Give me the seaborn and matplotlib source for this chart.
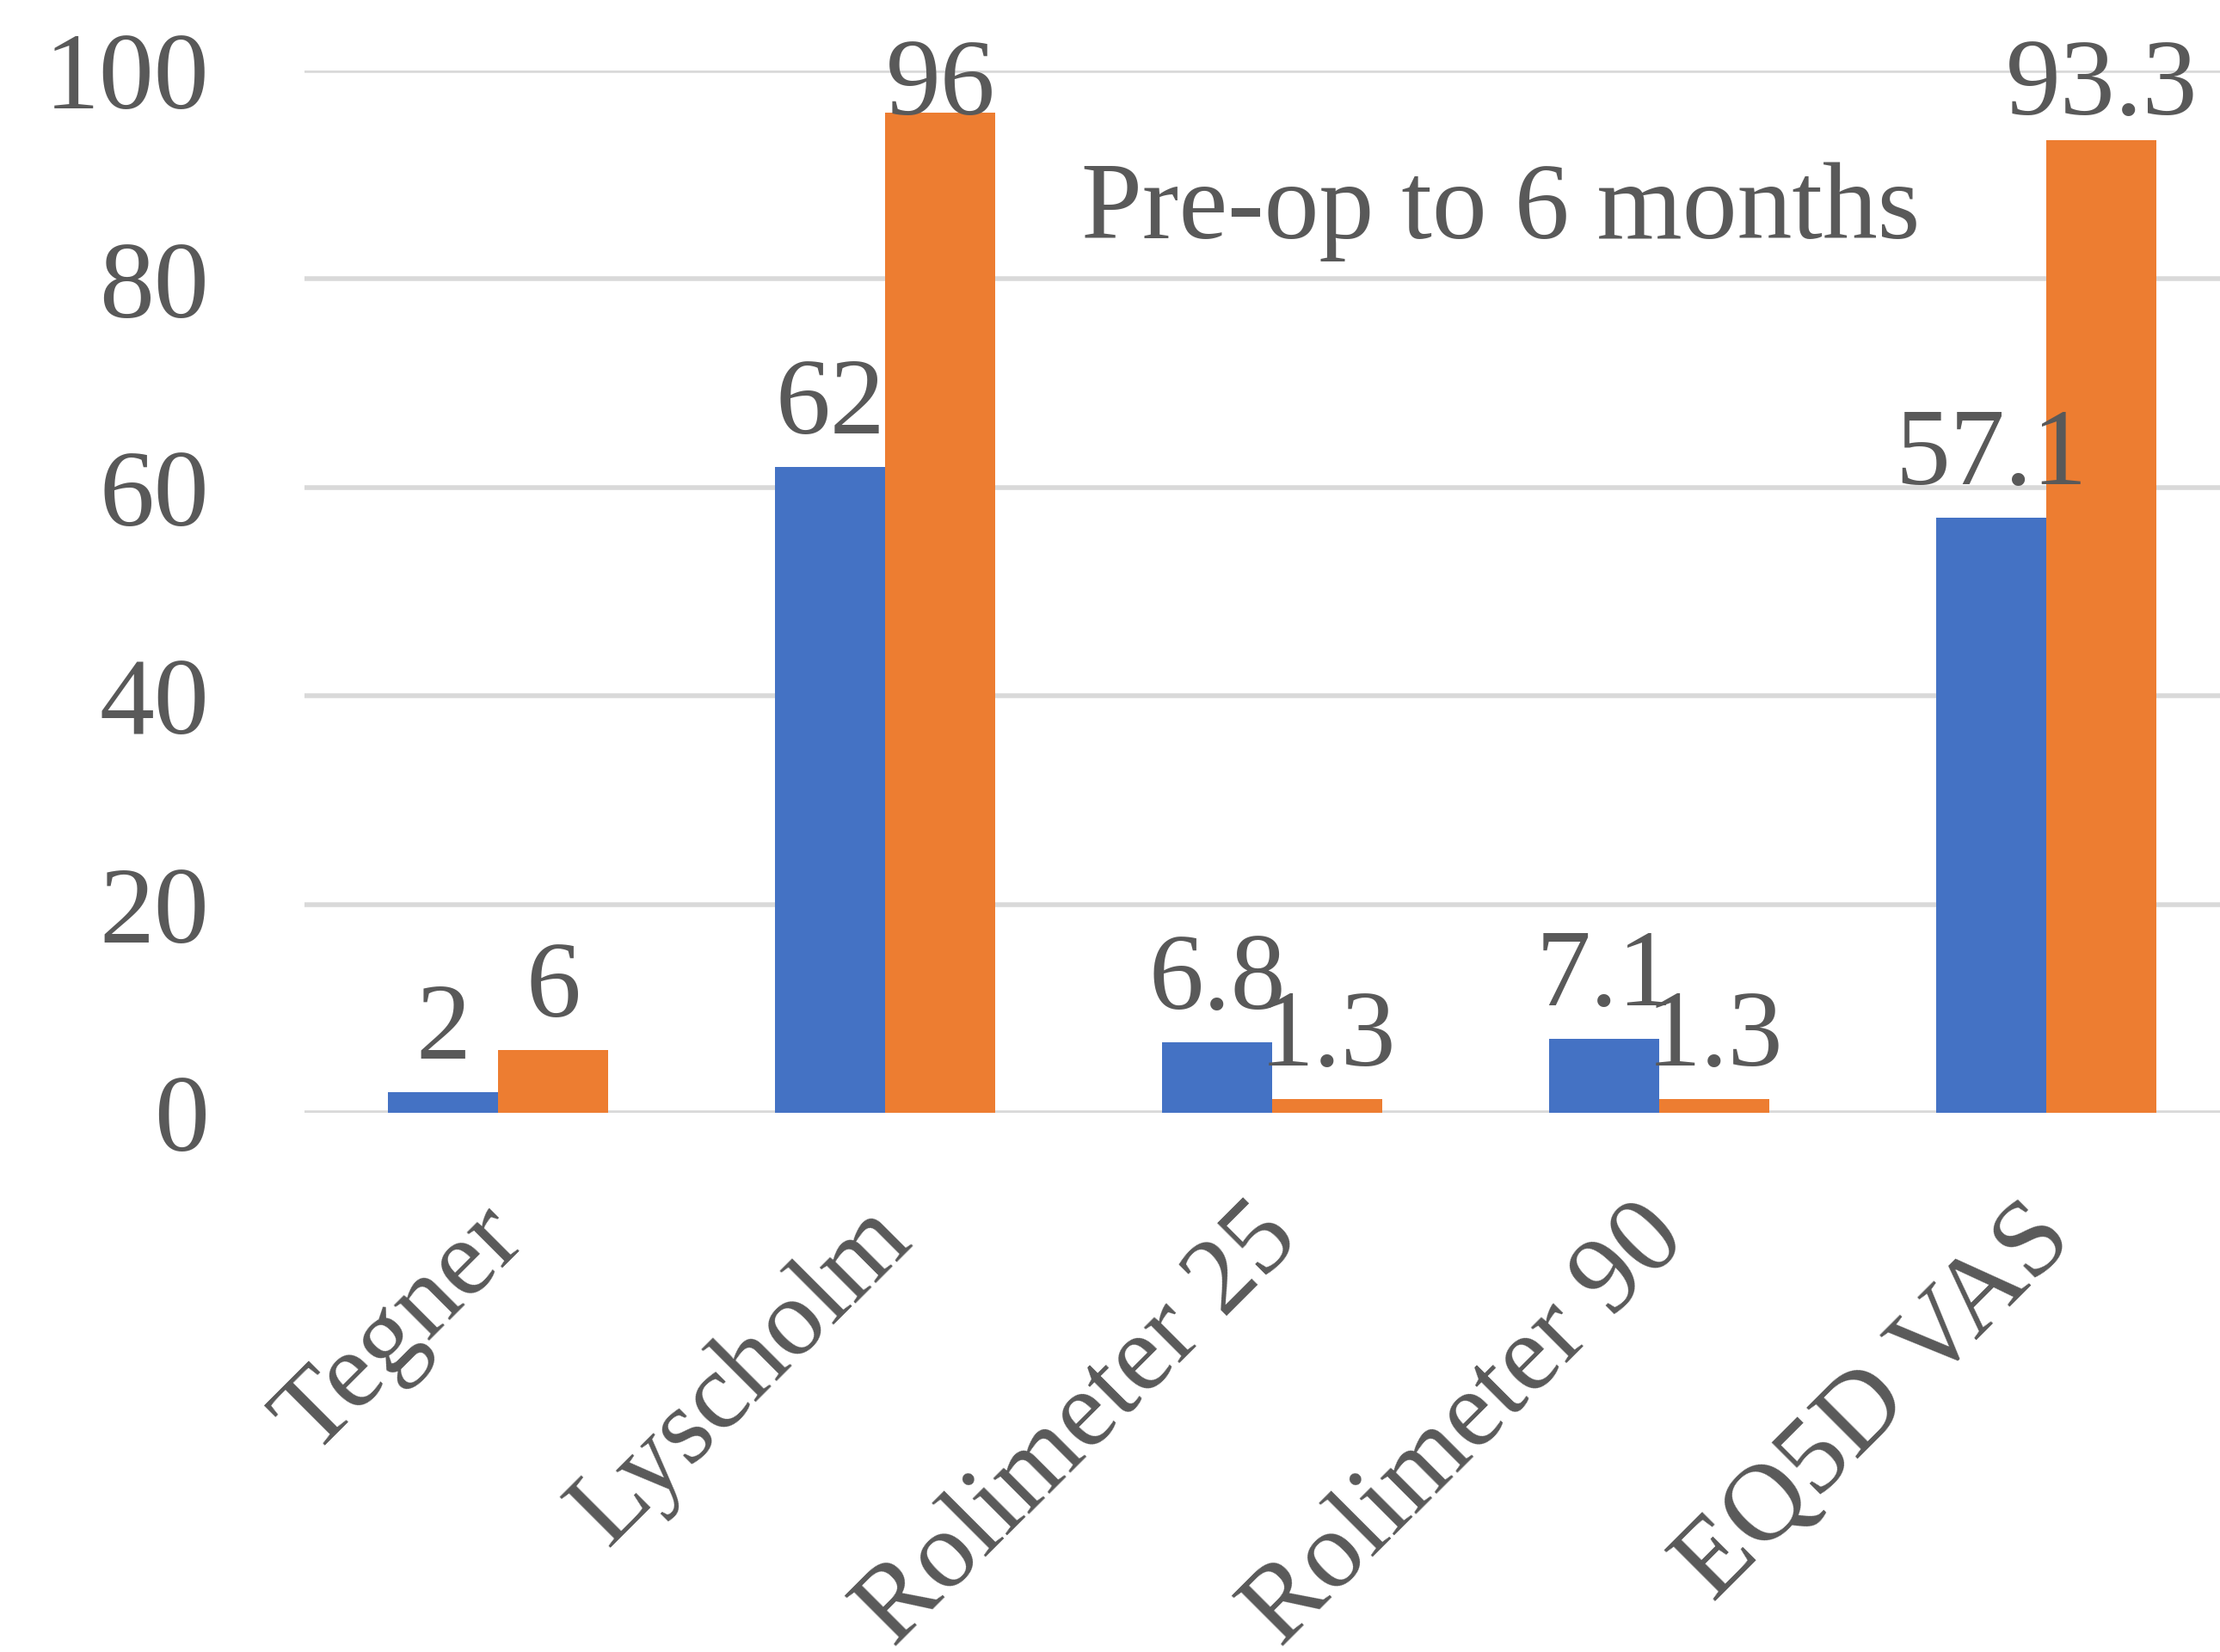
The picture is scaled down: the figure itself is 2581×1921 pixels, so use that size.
import matplotlib
matplotlib.use("Agg")
import matplotlib.pyplot as plt
import matplotlib.transforms as mtransforms
import seaborn as sns
import pandas as pd

# Scores per measure, pre-op and at 6 months
categories = ["Tegner", "Lyscholm", "Rolimeter 25", "Rolimeter 90", "EQ5D VAS"]
pre_op = [2, 62, 6.8, 7.1, 57.1]
six_months = [6, 96, 1.3, 1.3, 93.3]
series_names = ["Pre-op", "6 months"]
y_ticks = [0, 20, 40, 60, 80, 100]
caption = "Pre-op to 6 months"

df = pd.DataFrame({
    "Measure": categories * 2,
    "Score": pre_op + six_months,
    "Time": [series_names[0]] * len(categories) + [series_names[1]] * len(categories),
})

sns.set_theme(style="white")
plt.rcParams["font.family"] = ["Liberation Serif", "DejaVu Serif"]

TEXT = "#595959"
GRID = "#d9d9d9"
FS = 92
DPI = 100

fig = plt.figure(figsize=(25.81, 19.21), dpi=DPI)
ax = fig.add_axes([0.1372, 0.3264, 0.8718, 0.6309])

sns.barplot(
    data=df, x="Measure", y="Score", hue="Time",
    order=categories, hue_order=series_names,
    palette=["#4472C4", "#ED7D31"], width=0.57, saturation=1,
    errorbar=None, legend=False, ax=ax, linewidth=0, edgecolor="none",
)

ax.set_xlim(-0.5, 4.5)
ax.set_ylim(0, 100)
ax.set_yticks(y_ticks)
ax.set_xlabel("")
ax.set_ylabel("")
for s in ax.spines.values():
    s.set_visible(False)
ax.set_axisbelow(True)
ax.yaxis.grid(True, color=GRID, linewidth=4)

ax.tick_params(axis="y", length=0, pad=80, labelsize=FS, labelcolor=TEXT)
ax.tick_params(axis="x", length=0, pad=0, labelsize=FS, labelcolor=TEXT)

# Rotated category labels, anchored at their right end
shift = mtransforms.ScaledTranslation(12 / DPI, -128 / DPI, fig.dpi_scale_trans)
for lab in ax.get_xticklabels():
    lab.set_rotation(45)
    lab.set_ha("right")
    lab.set_va("center")
    lab.set_rotation_mode("anchor")
    lab.set_transform(lab.get_transform() + shift)

# Value labels above bars, kept inside the plot area
ax_h_px = ax.get_position().height * fig.get_figheight() * DPI
units_per_px = 100 / ax_h_px
gap = 39 * units_per_px
cap = 95.8
for container in ax.containers:
    for bar in container:
        v = bar.get_height()
        xc = bar.get_x() + bar.get_width() / 2
        ax.text(xc, min(v + gap, cap), f"{v:g}", ha="center", va="baseline",
                fontsize=FS, color=TEXT, clip_on=False)

fig.text(1257 / 2581, 1 - 277 / 1921, caption, ha="left", va="baseline",
         fontsize=FS, color=TEXT)

fig.savefig("out.png", dpi=DPI, facecolor="white")
